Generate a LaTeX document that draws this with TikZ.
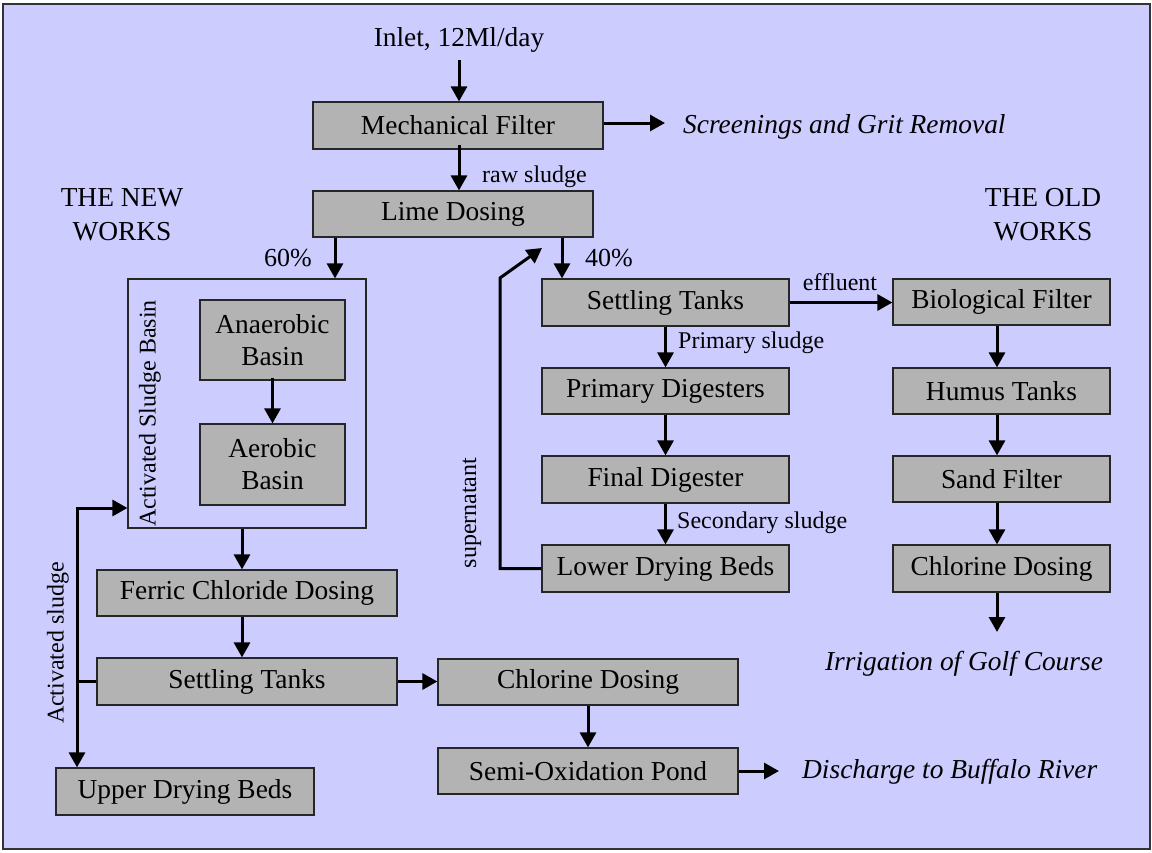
\documentclass[tikz,border=0pt]{standalone}
\usepackage{fontspec}
\setmainfont{Liberation Serif}
\usetikzlibrary{arrows.meta,calc}
\definecolor{bgblue}{HTML}{CCCCFF}
\definecolor{boxgray}{HTML}{B3B3B3}
\begin{document}
\begin{tikzpicture}[x=1pt,y=-1pt,
  proc/.style={draw=black!85,fill=boxgray,line width=1.2pt,inner sep=0pt,
    font=\fontsize{27.4}{32}\selectfont,align=center},
  txt/.style={inner sep=0pt,font=\fontsize{27.4}{34}\selectfont,align=center},
  lbl/.style={inner sep=0pt,font=\fontsize{24}{28}\selectfont},
  pct/.style={inner sep=0pt,font=\fontsize{26}{30}\selectfont},
  outtxt/.style={inner sep=0pt,font=\fontsize{27.4}{32}\selectfont\itshape},
  arr/.style={line width=3pt,-{Triangle[width=16pt,length=15pt]}},
  ln/.style={line width=3pt}]
\useasboundingbox (0,0) rectangle (1152,852);
\draw[fill=bgblue,draw=black!80,line width=1.5pt] (3,4) rectangle (1150,849);

% main column
\node[proc,minimum width=290pt,minimum height=47pt] (mech) at (458,125.5) {Mechanical Filter};
\node[proc,minimum width=280pt,minimum height=46pt] (lime) at (453,214) {Lime Dosing};
\node[txt] (inlet) at (459,40) {Inlet, 12Ml/day};
\node[outtxt,anchor=west] (screen) at (683,127) {Screenings and Grit Removal};

% new works
\node[txt] (newworks) at (122,215) {THE NEW\\WORKS};
\node[draw=black!85,line width=1.2pt,inner sep=0pt,minimum width=238pt,minimum height=249pt] (asb) at (247,403.5) {};
\node[lbl,rotate=90] (asblbl) at (150,413.5) {Activated Sludge Basin};
\node[proc,minimum width=145pt,minimum height=80pt] (anaer) at (272.5,340) {Anaerobic\\Basin};
\node[proc,minimum width=145pt,minimum height=81pt] (aer) at (272.5,464.5) {Aerobic\\Basin};
\node[proc,minimum width=300pt,minimum height=46pt] (ferric) at (247,593) {Ferric Chloride Dosing};
\node[proc,minimum width=300pt,minimum height=47pt] (settleN) at (247,681.5) {Settling Tanks};
\node[proc,minimum width=258pt,minimum height=47pt] (upper) at (185,791.5) {Upper Drying Beds};
\node[proc,minimum width=300pt,minimum height=46pt] (chlorN) at (588,682) {Chlorine Dosing};
\node[proc,minimum width=300pt,minimum height=46pt] (semi) at (588,771) {Semi-Oxidation Pond};
\node[outtxt,anchor=west] (discharge) at (802,772) {Discharge to Buffalo River};
\node[pct,anchor=east] (p60) at (312,258) {60\%};
\node[lbl,rotate=90] (actlbl) at (58,643) {Activated sludge};

% old sludge line
\node[proc,minimum width=247pt,minimum height=47pt] (settleO) at (665.5,302.5) {Settling Tanks};
\node[proc,minimum width=247pt,minimum height=46pt] (primD) at (665.5,391) {Primary Digesters};
\node[proc,minimum width=247pt,minimum height=47pt] (finalD) at (665.5,479.5) {Final Digester};
\node[proc,minimum width=247pt,minimum height=47pt] (lower) at (665.5,568.5) {Lower Drying Beds};
\node[pct,anchor=west] (p40) at (585,258) {40\%};
\node[lbl,anchor=west] (rawlbl) at (482,177) {raw sludge};
\node[lbl] (efflbl) at (840,282) {effluent};
\node[lbl,anchor=west] (primlbl) at (678,343) {Primary sludge};
\node[lbl,anchor=west] (seclbl) at (677,523) {Secondary sludge};
\node[lbl,rotate=90] (suplbl) at (472,513) {supernatant};

% old works
\node[txt] (oldworks) at (1043,215) {THE OLD\\WORKS};
\node[proc,minimum width=217pt,minimum height=46pt] (bio) at (1001.5,302) {Biological Filter};
\node[proc,minimum width=217pt,minimum height=46pt] (humus) at (1001.5,391) {Humus Tanks};
\node[proc,minimum width=217pt,minimum height=46pt] (sand) at (1001.5,479) {Sand Filter};
\node[proc,minimum width=217pt,minimum height=47pt] (chlorO) at (1001.5,568.5) {Chlorine Dosing};
\node[outtxt] (irrig) at (964,664) {Irrigation of Golf Course};

% coordinates
\coordinate (mx) at (459,0);
\coordinate (ox) at (997,0);
\coordinate (nx) at (242,0);
\coordinate (inletend) at (459,60);
\coordinate (screenend) at (665,123);
\coordinate (dischend) at (779,771);
\coordinate (irrigend) at (997,632);
\coordinate (lx) at (77,508);
\coordinate (supx) at (500,278);
\coordinate (suptip) at (542,248);
\coordinate (l60) at (335,0);
\coordinate (l40) at (562,0);

% connectors
\draw[arr] (inletend) -- (inletend |- mech.north);
\draw[arr] (mech.east |- screenend) -- (screenend);
\draw[arr] ([yshift=5pt]mech.south -| mx) -- (lime.north -| mx);
\draw[arr] (lime.south -| l60) -- (asb.north -| l60);
\draw[arr] (lime.south -| l40) -- (settleO.north -| l40);
\draw[arr] ([yshift=3pt]anaer.south) -- (aer.north);
\draw[arr] (asb.south -| nx) -- (ferric.north -| nx);
\draw[arr] (ferric.south -| nx) -- (settleN.north -| nx);
\draw[arr] (settleN.east) -- (chlorN.west |- settleN.east);
\draw[arr] (chlorN.south) -- (semi.north);
\draw[arr] (semi.east) -- (dischend);
\draw[ln] (settleN.west) -- (settleN.west -| lx);
\draw[line width=3pt,{Triangle[width=16pt,length=15pt]}-{Triangle[width=16pt,length=15pt]}]
  (lx -| asb.west) -- (lx) -- (lx |- upper.north);
\draw[arr] (settleO.east) -- (bio.west |- settleO.east);
\draw[arr] (settleO.south) -- (primD.north);
\draw[arr] (primD.south) -- (finalD.north);
\draw[arr] (finalD.south) -- (lower.north);
\draw[arr] (lower.west) -- (lower.west -| supx) -- (supx) -- (suptip);
\draw[arr] (bio.south -| ox) -- (humus.north -| ox);
\draw[arr] (humus.south -| ox) -- (sand.north -| ox);
\draw[arr] (sand.south -| ox) -- (chlorO.north -| ox);
\draw[arr] (chlorO.south -| ox) -- (irrigend);
\end{tikzpicture}
\end{document}
